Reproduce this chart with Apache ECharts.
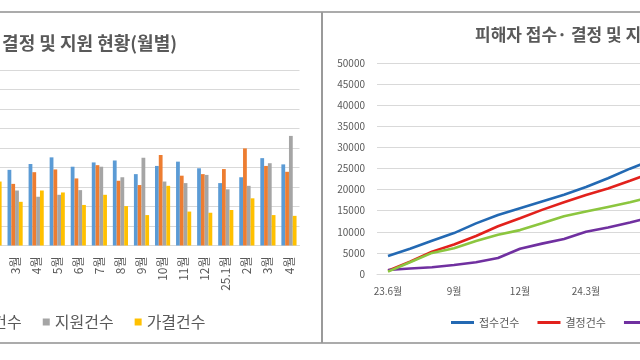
<!DOCTYPE html>
<html><head><meta charset="utf-8">
<script src="https://cdn.jsdelivr.net/npm/echarts@6/dist/echarts.min.js"></script>
<style>
html,body{margin:0;padding:0;width:640px;height:360px;overflow:hidden;background:#fff;position:relative;}
#left{position:absolute;left:-160px;top:0;width:480px;height:360px;}
#right{position:absolute;left:320px;top:0;width:640px;height:360px;}
.ln{position:absolute;background:#ABABAB;}
</style></head>
<body>
<div id="left"></div>
<div id="right"></div>
<div class="ln" style="left:0;top:11px;width:640px;height:2px;"></div>
<div class="ln" style="left:0;top:342px;width:640px;height:2px;"></div>
<div class="ln" style="left:321px;top:12px;width:2px;height:331px;background:#9A9A9A;"></div>
<script>
// ---- left chart (monthly) ----
var monthCats = ['2월','3월','4월','5월','6월','7월','8월','9월','10월','11월','12월','25.1월','2월','3월','4월'];
var monthReceived = [1900,1940,2090,2260,2020,2130,2180,1830,2040,2150,1980,1600,1750,2240,2080];
var monthDecided  = [1600,1580,1880,1950,1720,2060,1660,1550,2320,1790,1830,1960,2490,2040,1890];
var monthSupport  = [1500,1410,1250,1300,1420,2020,1750,2250,1640,1600,1810,1440,1530,2110,2810];
var monthApproved = [1640,1120,1410,1360,1040,1300,1010,780,1530,870,840,910,1210,780,760];
var leftTitle = '피해자 접수· 결정 및 지원 현황(월별)';

// ---- right chart (cumulative) ----
var cumCats = ['23.6월','7월','8월','9월','10월','11월','12월','1월','2월','24.3월','4월','5월','6월'];
var cumReceived = [4270,6000,7900,9700,12000,14000,15600,17200,18800,20600,22700,24960,27000];
var cumDecided  = [800,2900,5300,7000,9000,11300,13200,15200,17000,18700,20240,22100,24000];
var cumSupport  = [950,1300,1600,2150,2800,3800,6000,7200,8300,10000,11030,12200,13500];
var cumApproved = [550,2800,5000,6100,7800,9300,10400,12000,13700,14800,15900,17000,18300];
var rightTitle = '피해자 접수· 결정 및 지원 현황(누적)';

var FONT = "'Noto Sans CJK KR','Noto Sans',sans-serif";
var grid1 = '#D9D9D9';
var txt = '#595959';

var left = echarts.init(document.getElementById('left'), null, {renderer:'canvas'});
function bar(name, data, color){
  return {name:name, type:'bar', data:data, barGap:'0%', barCategoryGap:'28%',
          itemStyle:{color:color}, animation:false};
}
left.setOption({
  animation:false,
  textStyle:{fontFamily:FONT},
  graphic:[{type:'text', x:337, y:43, style:{text:leftTitle, textAlign:'right', textVerticalAlign:'middle',
            font:'bold 18px '+FONT, fill:txt}}],
  legend:{left:14, top:309, itemWidth:7, itemHeight:7, itemGap:21, icon:'rect',
          textStyle:{fontSize:16, color:txt, fontFamily:FONT},
          data:['접수건수','결정건수','지원건수','가결건수']},
  grid:{left:143.5, width:316, top:70, height:175.5, outerBoundsMode:'none', containLabel:false},
  xAxis:{type:'category', data:monthCats, axisTick:{show:false},
         axisLine:{lineStyle:{color:grid1}},
         axisLabel:{interval:0, rotate:90, margin:11, fontSize:12, color:txt, fontFamily:FONT}},
  yAxis:{type:'value', min:0, max:4500, interval:500,
         splitLine:{lineStyle:{color:grid1}}, axisLine:{show:false}, axisTick:{show:false},
         axisLabel:{color:txt, fontSize:10}},
  series:[bar('접수건수',monthReceived,'#5B9BD5'), bar('결정건수',monthDecided,'#ED7D31'),
          bar('지원건수',monthSupport,'#A5A5A5'), bar('가결건수',monthApproved,'#FFC000')]
});

var right = echarts.init(document.getElementById('right'), null, {renderer:'canvas'});
function line(name, data, color){
  return {name:name, type:'line', data:data, symbol:'none', smooth:false,
          lineStyle:{color:color, width:2.6}, itemStyle:{color:color}, animation:false};
}
right.setOption({
  animation:false,
  textStyle:{fontFamily:FONT},
  graphic:[{type:'text', x:155, y:35, style:{text:rightTitle, textAlign:'left', textVerticalAlign:'middle',
            font:'bold 17px '+FONT, fill:txt}}],
  legend:{left:126, top:312, itemWidth:23, itemHeight:3, itemGap:18, icon:'rect',
          textStyle:{fontSize:11, color:txt, fontFamily:FONT},
          data:['접수건수','결정건수','지원건수','가결건수']},
  grid:{left:57, width:286, top:63, height:211, outerBoundsMode:'none', containLabel:false},
  xAxis:{type:'category', data:cumCats, boundaryGap:true, axisTick:{show:false},
         axisLine:{lineStyle:{color:grid1}},
         axisLabel:{interval:2, margin:12, fontSize:10, color:txt, fontFamily:FONT}},
  yAxis:{type:'value', min:0, max:50000, interval:5000,
         splitLine:{lineStyle:{color:grid1}}, axisLine:{show:false}, axisTick:{show:false},
         axisLabel:{margin:12, fontSize:10, color:txt, fontFamily:FONT,
                    formatter:function(v){return String(v);}}},
  series:[line('접수건수',cumReceived,'#2369B3'), line('결정건수',cumDecided,'#E2211C'),
          line('지원건수',cumSupport,'#7030A0'), line('가결건수',cumApproved,'#8CC63F')]
});
</script>
</body></html>
